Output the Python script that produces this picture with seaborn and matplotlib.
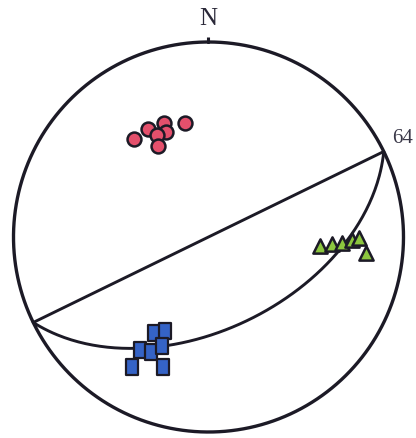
import numpy as np
import pandas as pd
import matplotlib
matplotlib.use("Agg")
import matplotlib.pyplot as plt
from matplotlib.path import Path
import seaborn as sns

# Plane (strike / dip, right-hand rule)
plane_strike = 64
plane_dip = 51

# Lineation groups: trend / plunge in degrees
circle_trend = [322.8, 330.8, 338.7, 338.0, 333.1, 330.8, 348.4]
circle_plunge = [37.0, 36.8, 37.2, 41.4, 41.0, 45.6, 39.9]

triangle_trend = [94.4, 93.2, 92.4, 91.4, 90.4, 95.8]
triangle_plunge = [42.2, 36.5, 32.0, 27.5, 23.6, 19.9]

square_trend = [209.7, 204.6, 211.4, 206.6, 203.2, 210.5, 199.2]
square_plunge = [43.0, 46.0, 32.6, 34.5, 39.0, 23.4, 30.3]


def project(trend, plunge):
    """Lower-hemisphere equal-area (Schmidt) projection."""
    t = np.radians(np.asarray(trend, dtype=float))
    p = np.radians(np.asarray(plunge, dtype=float))
    r = np.sqrt(2.0) * np.sin((np.pi / 2 - p) / 2)
    return r * np.sin(t), r * np.cos(t)


def great_circle(strike, dip, n=181):
    phi = np.radians(np.linspace(0, 180, n))
    d = np.radians(dip)
    plunge = np.degrees(np.arcsin(np.sin(d) * np.sin(phi)))
    trend = strike + np.degrees(np.arctan2(np.sin(phi) * np.cos(d), np.cos(phi)))
    return project(trend, plunge)


W, H = 416, 438
fig = plt.figure(figsize=(W / 100, H / 100), dpi=100)
ax = fig.add_axes([0, 0, 1, 1])
sns.set_style("white")

scale = 195.0
cx, cy = 208.5, 237.0
ax.set_xlim(-cx / scale, (W - cx) / scale)
ax.set_ylim((cy - H) / scale, cy / scale)
ax.set_aspect("equal")
ax.axis("off")

ink = "#1c1a26"

# Primitive circle
th = np.linspace(0, 2 * np.pi, 400)
prim = pd.DataFrame({"x": np.sin(th), "y": np.cos(th), "i": np.arange(th.size)})
sns.lineplot(data=prim, x="x", y="y", sort=False, estimator=None,
             color=ink, lw=2.4, ax=ax)
# North tick
ax.plot([0, 0], [1.0, 1.028], color=ink, lw=2.2, solid_capstyle="butt")
ax.text(0, 1.088, "N", ha="center", va="baseline", fontsize=18,
        family="Liberation Serif", color="#2a2838")

# Strike line (diameter) and the plane's great circle
s = np.radians(plane_strike)
strike_df = pd.DataFrame({"x": [np.sin(s), -np.sin(s)], "y": [np.cos(s), -np.cos(s)]})
sns.lineplot(data=strike_df, x="x", y="y", sort=False, estimator=None,
             color=ink, lw=2.1, ax=ax)
gx, gy = great_circle(plane_strike, plane_dip)
sns.lineplot(x=gx, y=gy, sort=False, estimator=None, color=ink, lw=2.1, ax=ax)

ax.annotate(str(plane_strike), xy=(np.sin(s), np.cos(s)), xytext=(6, 2.5),
            textcoords="offset points", ha="left", va="bottom", fontsize=15,
            family="Liberation Serif", color="#3a3848")

# Data points
rect = Path([(-0.36, -0.5), (0.36, -0.5), (0.36, 0.5), (-0.36, 0.5), (-0.36, -0.5)],
            [Path.MOVETO, Path.LINETO, Path.LINETO, Path.LINETO, Path.CLOSEPOLY])

cx_, cy_ = project(circle_trend, circle_plunge)
sns.scatterplot(x=cx_, y=cy_, marker="o", s=100, color="#e4506c",
                edgecolor=ink, linewidth=1.8, ax=ax, zorder=5)

tx, ty = project(triangle_trend, triangle_plunge)
sns.scatterplot(x=tx, y=ty, marker="^", s=105, color="#8cc63e",
                edgecolor=ink, linewidth=1.8, ax=ax, zorder=5)

qx, qy = project(square_trend, square_plunge)
sns.scatterplot(x=qx, y=qy, marker=rect, s=125, color="#3563c6",
                edgecolor=ink, linewidth=1.6, ax=ax, zorder=5)

fig.savefig("out.png", dpi=100, facecolor="white")
